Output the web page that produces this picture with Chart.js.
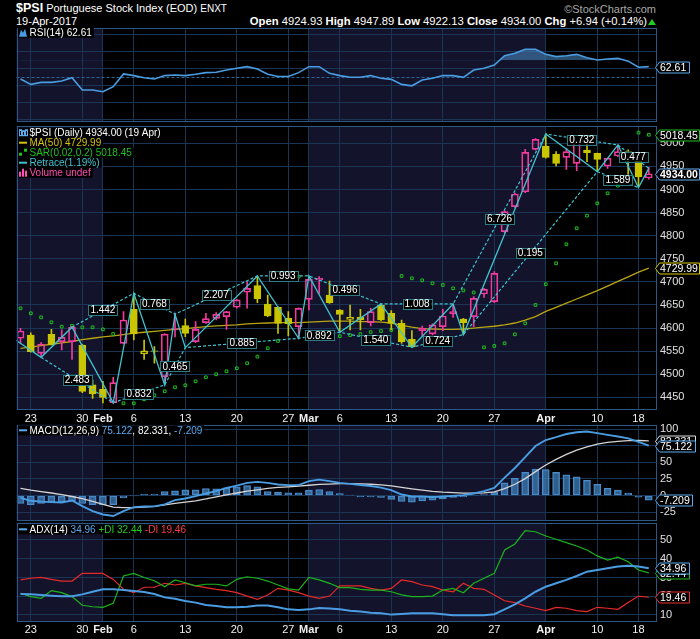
<!DOCTYPE html>
<html>
<head>
<meta charset="utf-8">
<script src="https://cdn.jsdelivr.net/npm/chart.js@4.4.1/dist/chart.umd.min.js"></script>
<style>
  body { margin: 0; background: #000; width: 700px; height: 639px; overflow: hidden; position: relative;
         font-family: "Liberation Sans", Arial, sans-serif; color: #fff; }
  canvas { position: absolute; left: 0; top: 0; }
  .t { position: absolute; white-space: nowrap; font-size: 11px; line-height: 13px; }
</style>
</head>
<body>
<div class="t" style="left:16px;top:2px"><b style="font-size:12.5px">$PSI</b> Portuguese Stock Index (EOD) <span style="font-size:10px">ENXT</span></div>
<div class="t" style="left:16px;top:15px">19-Apr-2017</div>
<div class="t" style="right:53px;top:15px;font-size:11.25px"><b>Open</b> 4924.93 <b>High</b> 4947.89 <b>Low</b> 4922.13 <b>Close</b> 4934.00 <b>Chg</b> +6.94 (+0.14%)</div>
<div style="position:absolute;left:648px;top:19px;border-left:4px solid transparent;border-right:4px solid transparent;border-bottom:6px solid #22cc22"></div>
<div class="t" style="right:44px;top:3px;color:#a8a8a8">&copy;StockCharts.com</div>

<canvas id="rsi" width="700" height="639"></canvas>
<canvas id="price" width="700" height="639"></canvas>
<canvas id="macd" width="700" height="639"></canvas>
<canvas id="adx" width="700" height="639"></canvas>

<script>
// trading days 20 Jan .. 19 Apr 2017, index 0..61
const xTickIdx    = [1, 6, 8, 11, 16, 21, 26, 28, 31, 36, 41, 46, 51, 56, 60];
const xTickLabels = ['23', '30', 'Feb', '6', '13', '20', '27', 'Mar', '6', '13', '20', '27', 'Apr', '10', '18'];
const monthStartIdx = [8, 28, 51];   // Feb, Mar, Apr

const opens  = [4578, 4585, 4545.4, 4586.6, 4570.7, 4570.7, 4563, 4477, 4467.5, 4438.6,
                4567, 4640.6, 4544, 4549.5, 4495, 4597, 4605.3, 4570.7, 4611.7, 4621,
                4624.8, 4645, 4677.5, 4691.8, 4652.2, 4645, 4621, 4603.1, 4662.3, 4704.2,
                4671.7, 4639.2, 4619, 4623.3, 4611.7, 4650, 4632, 4610.3, 4575.6, 4594.5,
                4587.3, 4603.1, 4630.5, 4619.7, 4624.8, 4673.8, 4657.2, 4808.7, 4862.8, 4895.1,
                4986.9, 4994.1, 4976.8, 4969.6, 4956.6, 4985.4, 4978.3, 4950.9, 4972.5, 4982,
                4962.4, 4924.93];
const highs  = [4599.5, 4590, 4568.5, 4597.3, 4596, 4604.6, 4565, 4487.7, 4484.8, 4493.4,
                4635.5, 4675.3, 4574.3, 4560, 4588, 4632, 4619.5, 4613.9, 4632, 4633.4,
                4636.5, 4662, 4700.5, 4712.8, 4671.7, 4646, 4635.6, 4644, 4712.8, 4711.4,
                4701.9, 4640, 4650, 4640.6, 4642.8, 4652.2, 4637.8, 4617.5, 4594.5, 4604.6,
                4609, 4640.6, 4652.2, 4621, 4668, 4686.1, 4722.2, 4854.2, 4892, 4986.9,
                5010, 5020, 4981.9, 4989, 5007.1, 4998.5, 4979, 4968, 4996.3, 4986,
                4971, 4947.89];
const lows   = [4568, 4547.6, 4536.7, 4563.5, 4552.7, 4532.4, 4460, 4448, 4437.9, 4437.2,
                4567, 4574.3, 4532.4, 4524, 4477, 4581, 4581.4, 4568.5, 4610.3, 4617.5,
                4597.3, 4643, 4643, 4655, 4624.8, 4588.7, 4582.9, 4577.9, 4639.2, 4675.3,
                4653.6, 4591, 4596, 4596, 4604.6, 4616, 4596, 4567, 4558.4, 4582.9,
                4585, 4594.5, 4623.3, 4586.5, 4603.1, 4666.6, 4655.1, 4806.5, 4861, 4893,
                4985, 4968, 4950.9, 4943.6, 4940.7, 4960.3, 4938.6, 4945.8, 4971.1, 4928,
                4908, 4922.13];
const closes = [4593.7, 4549, 4565.6, 4564, 4580, 4601.7, 4463, 4457.3, 4450, 4482,
                4617.5, 4587.3, 4551, 4550.5, 4586.6, 4599.5, 4588.7, 4597.3, 4620.4, 4629.8,
                4635.6, 4660.9, 4686.1, 4663, 4626.2, 4610.3, 4609.5, 4642.8, 4705.6, 4707.8,
                4655.1, 4629.8, 4623.3, 4617.5, 4635.6, 4617.5, 4610.3, 4570.7, 4559.7, 4599.6,
                4606.8, 4626.2, 4635.6, 4611.7, 4664.4, 4683.9, 4718.5, 4852, 4890.2, 4980.2,
                5008.6, 4969.6, 4956.6, 4981.9, 5001.4, 4979.7, 4965.3, 4967.5, 4981.9, 4963,
                4927.06, 4934.00];
const ma50   = [4556, 4559, 4562, 4565, 4568, 4571, 4575, 4578, 4581, 4583,
                4586, 4589, 4591, 4593, 4595, 4597, 4599, 4601, 4603, 4605,
                4606, 4607, 4609, 4610, 4611, 4612, 4612, 4612, 4613, 4614,
                4615, 4615, 4615, 4614, 4614, 4613, 4611, 4606, 4602, 4599,
                4598, 4597, 4597, 4598, 4600, 4602, 4604, 4607, 4611, 4617,
                4625, 4636, 4645, 4654, 4663, 4672, 4681, 4691, 4701, 4711,
                4721, 4729.99];
const sar    = [4642.8, 4632, 4623.3, 4612.5, 4603, 4605, 4601.7, 4601.7, 4597.3, 4587.3,
                4437.2, 4437.2, 4445.9, 4454.5, 4463.2, 4471.8, 4476.2, 4484.8, 4493.5, 4500,
                4506.5, 4513, 4523.8, 4538.2, 4556.3, 4572.1, 4712.8, 4711.3, 4578, 4579,
                4581, 4582.6, 4584.8, 4587, 4591.4, 4593.6, 4595.7, 4712.8, 4707.7, 4703.4,
                4696.9, 4693.3, 4686, 4681.5, 4677, 4558.4, 4561.3, 4567, 4586.5, 4610.3,
                4650, 4695, 4740.2, 4781.3, 4816, 4843.4, 4870, 4891.7, 4908.3, 4921,
                5023, 5018.45];

// Retrace zigzag pivots (day index, price) and the ratios printed on the dashed links
const zzIdx    = [-1, 2, 5, 9, 11, 14, 15, 16, 23, 27, 28, 31, 35, 38, 42, 43, 51, 56, 58, 60, 61];
const zzPrice  = [4582, 4536.7, 4602, 4438.6, 4675.3, 4477, 4630, 4557.7, 4712.8, 4577.9, 4712.8,
                  4591, 4652.2, 4558.4, 4652.2, 4586, 5020, 4938.6, 4996.3, 4904, 4945.8];
const zzRatios = ['2.483', '1.442', '0.832', '0.768', '0.465', '2.207', '0.885', '0.993', '0.892',
                  '0.496', '1.540', '1.008', '0.724', '6.726', '0.195', '0.732', '1.589', '0.477'];

const rsi = [48, 41.7, 44, 44, 45.6, 49.5, 35, 35, 33, 39,
             54, 52, 49.5, 48, 52, 52.7, 52, 53.5, 55.5, 56,
             58.6, 60.6, 62.5, 59.8, 53.5, 51, 51, 55.5, 62.5, 62.5,
             54.7, 52, 50, 50, 52, 48.8, 47.6, 41.7, 40, 46.8,
             48.8, 52, 52, 50, 58.6, 60.6, 64.5, 75.4, 78.2, 83,
             83, 77, 74.3, 75.4, 77, 73, 70.4, 71.5, 72.3, 69,
             61.8, 62.61];

const macd   = [-3.5, -8, -9.3, -10, -10.6, -7.5, -16, -23.5, -28.6, -31,
                -23.6, -17.6, -16.6, -16.4, -13.3, -7, -4.5, -1, 3, 6.5,
                11.5, 15, 19, 20.6, 19, 16.6, 15.6, 15.6, 21.6, 24,
                21.6, 19, 17.6, 15.8, 14.3, 11.8, 8, 1.5, -1.5, -1.5,
                -2.5, -1.5, -0.5, 0.5, 3, 6.5, 11.5, 27, 41.5, 58,
                74.7, 83.7, 88, 92.8, 95.5, 96.5, 94, 91.5, 89, 86.2,
                81, 75.122];
const signal = [10.6, 8, 6, 3.8, 1.2, -1.5, -4.8, -9, -13.5, -17.6,
                -18.4, -18.1, -17.4, -16.5, -14.2, -12, -10, -8, -5.2, -2,
                1, 3.8, 6.5, 8.6, 10.8, 12.2, 13, 14, 15.5, 16.7,
                17.3, 17.8, 18, 17.6, 17, 16, 14.5, 12.3, 10, 8,
                6.3, 5, 4.2, 3.6, 3.5, 4, 5.5, 10.5, 17, 25.5,
                36, 46, 54.5, 62, 68.5, 73.5, 77.5, 80, 81.8, 82.8,
                83, 82.331];
const hist   = [-12, -14, -12, -10, -10, -8.5, -12, -14, -14, -14,
                -3.5, -0.5, 2, 2, 6, 7, 8.5, 8.5, 10.5, 10,
                11.5, 13, 15, 13, 6, 5, 4, 4, 8, 9,
                6, 3, 0.5, -2, -2, -3, -6, -9, -10, -8,
                -7, -5, -3, -2, 0.5, 1.5, 5, 19, 26, 35,
                40, 39, 35, 31, 28, 23, 17, 11, 8, 3.5,
                -2.5, -7.209];

const adx    = [21.2, 21, 20.7, 20.3, 20, 20, 21, 22.4, 23.7, 23.7,
                23.3, 22.8, 22.3, 21.2, 19.4, 18.7, 17.5, 16.6, 15.3, 14.8,
                14.1, 14.1, 14.4, 15, 15, 14.1, 13, 12.7, 13, 13.7,
                13.5, 13, 12.3, 11.8, 11.2, 10.9, 10.2, 10.5, 10.9, 10.9,
                10.9, 10.4, 9.8, 9.8, 9.8, 9.8, 10.4, 13, 15.7, 18.9,
                22.4, 25.1, 26.9, 28.7, 30.8, 33.1, 34, 34.9, 35.8, 36.2,
                35.8, 34.96];
const plusDI = [21.6, 19.8, 18.9, 23, 21.9, 19.8, 15.2, 14.4, 14.1, 16.2,
                30.8, 32.2, 30, 28.3, 25.1, 28.7, 27.2, 25.5, 26.4, 26.4,
                25.5, 29, 30.4, 29.6, 28.1, 26, 23.9, 23.3, 30, 28.7,
                26.9, 24.6, 24.6, 23.7, 23.3, 23.3, 22.4, 20.7, 19.8, 19.8,
                20.1, 23.3, 24.2, 21.9, 26.9, 29.6, 32.2, 44.7, 47.9, 55,
                54.4, 52.1, 50.4, 48.6, 46.8, 44.7, 41.5, 39.3, 40.8, 38.4,
                34, 32.44];
const minusDI = [28.7, 29.6, 30.1, 29, 28.1, 28.1, 32.2, 32.2, 32.2, 29,
                 23.7, 21.9, 24.8, 24.8, 26.9, 26, 26.9, 25.5, 24.6, 23.7,
                 23, 21.9, 20.1, 18.4, 20.7, 24.2, 23.3, 21.9, 20.1, 18.9,
                 20.1, 25.6, 25.5, 25.5, 24.2, 23.3, 24.2, 28.7, 27.8, 26,
                 25.1, 23.3, 22.4, 26.9, 24.2, 23.7, 20.7, 17.6, 16.6, 14.8,
                 13.6, 12.3, 14.1, 13.6, 12.3, 11.8, 14.1, 13.6, 13, 16.6,
                 20.1, 19.46];

const priceTicks = [4450, 4500, 4550, 4600, 4650, 4700, 4750, 4800, 4850, 4900, 4950, 5000];
const rsiTicks   = [0, 10, 20, 30, 40, 50, 60, 70, 80, 90, 100];
const rsiLabeled = [10, 30, 50, 70, 90];
const macdTicks  = [-25, 0, 25, 50, 75, 100];
const adxTicks   = [10, 20, 30, 40, 50];

// ---- look ----
const FONT = '"Liberation Sans", Arial, sans-serif';
const GRID = '#1a3454', FRAME = '#2a5887', SHADE = '#13132b';
const PINK = '#f23a9e', YEL = '#c9c500', MAC = '#b9a412', SARC = '#1fbf1f', CYAN = '#3fc3cf';
const BLUE = '#4a9de2', LBLUE = '#5aaaf0', GREEN = '#1cb41c', RED = '#e62a2a';
const X_MIN = -0.39, X_MAX = 61.7;
Chart.defaults.font.family = FONT;

const days = closes.map((_, i) => i);
const pts = arr => arr.map((v, i) => ({ x: i, y: v }));

function shade(c) {
  const { ctx, chartArea: a, scales: { x } } = c;
  ctx.save();
  ctx.fillStyle = SHADE;
  [[X_MIN, monthStartIdx[0]], [monthStartIdx[1], monthStartIdx[2]]].forEach(([s, e]) => {
    const x0 = Math.max(a.left, x.getPixelForValue(s)), x1 = Math.min(a.right, x.getPixelForValue(e));
    ctx.fillRect(x0, a.top, x1 - x0, a.bottom - a.top);
  });
  ctx.restore();
}

function frame(c) {
  const { ctx, chartArea: a } = c;
  ctx.save();
  ctx.strokeStyle = FRAME; ctx.lineWidth = 1;
  ctx.strokeRect(Math.round(a.left) + 0.5, Math.round(a.top) + 0.5, Math.round(a.right - a.left) - 1, Math.round(a.bottom - a.top) - 1);
  ctx.restore();
}

// value box on the right axis, arrow pointing at the plot
function tag(c, value, text, color, bold) {
  const { ctx, chartArea: a, scales: { y } } = c;
  const yc = Math.round(y.getPixelForValue(value)) + 0.5;
  ctx.save();
  ctx.font = (bold ? 'bold ' : '') + '10.5px ' + FONT;
  const w = ctx.measureText(text).width, h = 11, x0 = Math.round(a.right) - 0.5;
  const xr = Math.min(699.5, Math.round(x0 + 4 + w + 3) + 0.5);
  ctx.beginPath();
  ctx.moveTo(x0, yc); ctx.lineTo(x0 + 4, yc - h / 2); ctx.lineTo(xr, yc - h / 2);
  ctx.lineTo(xr, yc + h / 2); ctx.lineTo(x0 + 4, yc + h / 2); ctx.closePath();
  ctx.fillStyle = '#000'; ctx.fill();
  ctx.strokeStyle = color; ctx.lineWidth = 1; ctx.stroke();
  ctx.fillStyle = '#fff'; ctx.textBaseline = 'middle'; ctx.textAlign = 'left';
  ctx.fillText(text, x0 + 4.5, yc + 0.5);
  ctx.restore();
}

// one legend line: parts = [[text, colour], ...], icon drawn left of the text
function legend(c, y, parts, icon) {
  const ctx = c.ctx, x = 29.5;
  ctx.save();
  ctx.font = '10px ' + FONT;
  const w = parts.reduce((s, p) => s + ctx.measureText(p[0]).width, 0);
  ctx.fillStyle = '#000';
  ctx.fillRect(18, y - 5, x - 18 + w + 2, 10);
  if (icon) icon(ctx, y);
  ctx.textBaseline = 'middle'; ctx.textAlign = 'left';
  let cx = x;
  parts.forEach(([t, col]) => { ctx.fillStyle = col; ctx.fillText(t, cx, y + 0.5); cx += ctx.measureText(t).width; });
  ctx.restore();
}
const dashIcon = col => (ctx, y) => { ctx.fillStyle = col; ctx.fillRect(19, y - 1, 8, 2); };

function makeChart(id, g, datasets, yTicks, yLabel, showX, draw, under) {
  return new Chart(document.getElementById(id), {
    type: 'bar',
    data: { datasets },
    options: {
      responsive: false, animation: false, events: [],
      layout: { padding: { left: 16.5, right: 0, top: g.top, bottom: 639 - g.bottom - (showX ? 16 : 0) } },
      plugins: { legend: { display: false }, tooltip: { enabled: false } },
      scales: {
        x: {
          type: 'linear', min: X_MIN, max: X_MAX, offset: false,
          afterBuildTicks: s => { s.ticks = xTickIdx.map(v => ({ value: v })); },
          afterFit: s => { s.height = showX ? 16 : 0; },
          grid: { color: GRID, drawTicks: false, offset: false },
          border: { display: false },
          ticks: {
            display: showX, autoSkip: false, maxRotation: 0, padding: 2, color: '#f0f0f0',
            font: ctx => ({ family: FONT, size: 11, weight: /[A-Z]/.test(xTickLabels[ctx.index] || '') ? 'bold' : 'normal' }),
            callback: (v, i) => xTickLabels[i]
          }
        },
        y: {
          position: 'right', min: g.min, max: g.max,
          afterBuildTicks: s => { s.ticks = yTicks.map(v => ({ value: v })); },
          afterFit: s => { s.width = 44; },
          grid: { color: GRID, drawTicks: false },
          border: { display: false },
          ticks: { color: '#e0e0e0', padding: 4, font: { family: FONT, size: 11 }, callback: yLabel }
        }
      }
    },
    plugins: [{
      id: 'panel',
      beforeDraw: c => shade(c),
      beforeDatasetsDraw: c => { if (under) under(c); },
      afterDraw: c => { frame(c); if (draw) draw(c); }
    }]
  });
}

// ---------- RSI ----------
makeChart('rsi', { top: 28, bottom: 121.5, min: -2, max: 108 }, [{
  type: 'line', data: pts(rsi), borderColor: BLUE, borderWidth: 1.6, pointRadius: 0, tension: 0,
  fill: { target: { value: 70 }, above: 'rgba(74,140,196,0.55)', below: 'rgba(0,0,0,0)' }
}], rsiTicks, v => rsiLabeled.includes(v) ? v : '', false, c => {
  legend(c, 32.7, [['RSI(14) 62.61', '#fff']], (ctx, y) => {
    ctx.fillStyle = BLUE; ctx.beginPath();
    ctx.moveTo(19, y + 4); ctx.lineTo(21, y - 3); ctx.lineTo(23, y); ctx.lineTo(25, y - 4); ctx.lineTo(27, y + 4); ctx.fill();
  });
  tag(c, rsi[rsi.length - 1], '62.61', LBLUE);
}, c => {
  const { ctx, chartArea: a, scales: { y } } = c;
  const yy = Math.round(y.getPixelForValue(50)) + 0.5;
  ctx.save(); ctx.strokeStyle = '#2a6596'; ctx.setLineDash([3, 2]);
  ctx.beginPath(); ctx.moveTo(a.left, yy); ctx.lineTo(a.right, yy); ctx.stroke(); ctx.restore();
});

// ---------- Price ----------
const candleCol = closes.map((c, i) => (i === 0 || c > closes[i - 1]) ? PINK : YEL);
const bodyFill  = closes.map((c, i) => c < opens[i] ? candleCol[i] : 'rgba(0,0,0,0)');
const odd = zzIdx.map((v, i) => i).filter(i => i % 2 === 1);
const even = zzIdx.map((v, i) => i).filter(i => i % 2 === 0 && i > 0);
const chain = ids => ids.map(i => ({ x: zzIdx[i], y: zzPrice[i] }));

makeChart('price', { top: 126, bottom: 410, min: 4422.7, max: 5037.4 }, [
  { type: 'line', order: 7, data: pts(ma50), borderColor: MAC, borderWidth: 1.3, pointRadius: 0 },
  { type: 'line', order: 6, data: pts(sar), showLine: false, pointStyle: 'rect', pointRadius: 1.9,
    pointBorderColor: SARC, pointBackgroundColor: 'rgba(0,0,0,0)', pointBorderWidth: 1 },
  { order: 5, grouped: false, barThickness: 1, backgroundColor: candleCol,
    data: days.map(i => ({ x: i, y: [Math.max(opens[i], closes[i]), highs[i]] })) },
  { order: 5, grouped: false, barThickness: 1, backgroundColor: candleCol,
    data: days.map(i => ({ x: i, y: [lows[i], Math.min(opens[i], closes[i])] })) },
  { order: 4, grouped: false, barThickness: 7, backgroundColor: bodyFill, borderColor: candleCol,
    borderWidth: 1, borderSkipped: false,
    data: days.map(i => ({ x: i, y: [opens[i], closes[i]] })) },
  { type: 'line', order: 3, data: chain(odd), borderColor: CYAN, borderWidth: 1.2, borderDash: [3, 2], pointRadius: 0 },
  { type: 'line', order: 3, data: chain(even), borderColor: CYAN, borderWidth: 1.2, borderDash: [3, 2], pointRadius: 0 },
  { type: 'line', order: 2, data: zzIdx.map((v, i) => ({ x: v, y: zzPrice[i] })), borderColor: CYAN, borderWidth: 1.3, pointRadius: 0 }
], priceTicks, v => v, true, c => {
  const { ctx, scales: { x, y } } = c;
  ctx.save();
  ctx.font = '10px ' + FONT; ctx.textAlign = 'center'; ctx.textBaseline = 'middle';
  zzRatios.forEach((t, k) => {
    const a = k + 1, b = k + 3;
    const px = x.getPixelForValue((zzIdx[a] + zzIdx[b]) / 2);
    const py = y.getPixelForValue((zzPrice[a] + zzPrice[b]) / 2);
    const w = ctx.measureText(t).width + 4;
    ctx.fillStyle = '#000'; ctx.fillRect(px - w / 2, py - 5, w, 10);
    ctx.strokeStyle = '#2c7c84'; ctx.lineWidth = 1; ctx.strokeRect(Math.round(px - w / 2) + 0.5, Math.round(py - 5) + 0.5, Math.round(w), 10);
    ctx.fillStyle = '#fff'; ctx.fillText(t, px, py + 0.5);
  });
  ctx.restore();
  legend(c, 132.7, [['$PSI (Daily) 4934.00 (19 Apr)', '#fff']], (ctx, yy) => {
    ctx.strokeStyle = LBLUE; ctx.lineWidth = 1;
    [20, 23, 26].forEach((xx, k) => { ctx.strokeRect(xx - 0.5, yy - 3 + k % 2, 2, 6 - k % 2); });
  });
  legend(c, 142.7, [['MA(50) 4729.99', '#d6c210']], dashIcon('#d6c210'));
  legend(c, 152.7, [['SAR(0.02,0.2) 5018.45', SARC]], (ctx, yy) => {
    ctx.strokeStyle = SARC; ctx.lineWidth = 1; ctx.strokeRect(19.5, yy + 0.5, 2, 2); ctx.strokeRect(24.5, yy - 3.5, 2, 2);
  });
  legend(c, 162.7, [['Retrace(1.19%)', CYAN]], dashIcon(CYAN));
  legend(c, 172.7, [['Volume undef', '#ff4fb4']], (ctx, yy) => {
    ctx.fillStyle = '#ff4fb4'; ctx.fillRect(19, yy - 1, 2, 5); ctx.fillRect(22, yy - 4, 2, 8); ctx.fillRect(25, yy - 2, 2, 6);
  });
  tag(c, sar[sar.length - 1], '5018.45', '#22c022');
  tag(c, ma50[ma50.length - 1], '4729.99', '#d8c800');
  tag(c, closes[closes.length - 1], '4934.00', '#66b0f0', true);
});

// ---------- MACD ----------
makeChart('macd', { top: 424.5, bottom: 520.5, min: -37.7, max: 107.1 }, [
  { order: 4, grouped: false, barThickness: 7, data: pts(hist),
    backgroundColor: 'rgba(60,120,176,0.78)', borderColor: '#4a8ccc', borderWidth: 1, borderSkipped: false },
  { type: 'line', order: 3, data: pts(signal), borderColor: '#d4d4d4', borderWidth: 1.3, pointRadius: 0 },
  { type: 'line', order: 2, data: pts(macd), borderColor: BLUE, borderWidth: 1.9, pointRadius: 0 }
], macdTicks, v => v, false, c => {
  legend(c, 430.3, [['MACD(12,26,9) ', '#fff'], ['75.122', LBLUE], [', 82.331, ', '#fff'], ['-7.209', LBLUE]], dashIcon(LBLUE));
  tag(c, signal[signal.length - 1], '82.331', '#e0e0e0');
  tag(c, macd[macd.length - 1], '75.122', LBLUE);
  tag(c, hist[hist.length - 1], '-7.209', LBLUE);
});

// ---------- ADX ----------
makeChart('adx', { top: 522.5, bottom: 621.5, min: 6.53, max: 59.33 }, [
  { type: 'line', order: 4, data: pts(minusDI), borderColor: RED, borderWidth: 1.2, pointRadius: 0 },
  { type: 'line', order: 3, data: pts(plusDI), borderColor: GREEN, borderWidth: 1.2, pointRadius: 0 },
  { type: 'line', order: 2, data: pts(adx), borderColor: BLUE, borderWidth: 2, pointRadius: 0 }
], adxTicks, v => v, true, c => {
  legend(c, 529.3, [['ADX(14) ', '#fff'], ['34.96', LBLUE], [' +DI 32.44', '#22cc22'], [' -DI 19.46', '#ff3a3a']], dashIcon(LBLUE));
  tag(c, plusDI[plusDI.length - 1], '32.44', '#22bb22');
  tag(c, adx[adx.length - 1], '34.96', LBLUE);
  tag(c, minusDI[minusDI.length - 1], '19.46', '#ee3030');
});
</script>
</body>
</html>
